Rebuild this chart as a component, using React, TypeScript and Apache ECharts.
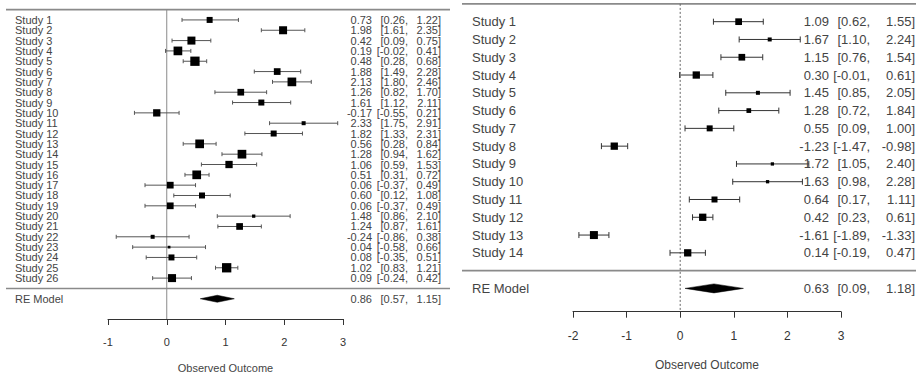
import React, { useEffect, useRef } from "react";
import * as echarts from "echarts";

// ---------- Left forest plot ----------
const leftStudies = [
  "Study 1", "Study 2", "Study 3", "Study 4", "Study 5", "Study 6", "Study 7",
  "Study 8", "Study 9", "Study 10", "Study 11", "Study 12", "Study 13", "Study 14",
  "Study 15", "Study 16", "Study 17", "Study 18", "Study 19", "Study 20", "Study 21",
  "Study 22", "Study 23", "Study 24", "Study 25", "Study 26",
];
const leftEst = [0.73, 1.98, 0.42, 0.19, 0.48, 1.88, 2.13, 1.26, 1.61, -0.17, 2.33, 1.82, 0.56, 1.28, 1.06, 0.51, 0.06, 0.6, 0.06, 1.48, 1.24, -0.24, 0.04, 0.08, 1.02, 0.09];
const leftLo = [0.26, 1.61, 0.09, -0.02, 0.28, 1.49, 1.8, 0.82, 1.12, -0.55, 1.75, 1.33, 0.28, 0.94, 0.59, 0.31, -0.37, 0.12, -0.37, 0.86, 0.87, -0.86, -0.58, -0.35, 0.83, -0.24];
const leftHi = [1.22, 2.35, 0.75, 0.41, 0.68, 2.28, 2.46, 1.7, 2.11, 0.21, 2.91, 2.31, 0.84, 1.62, 1.53, 0.72, 0.49, 1.08, 0.49, 2.1, 1.61, 0.38, 0.66, 0.51, 1.21, 0.42];
const leftWeight = [6, 8, 8, 8.7, 9.3, 6.7, 8.7, 6.7, 6, 7.3, 4, 6, 8.7, 8.7, 7.3, 8.7, 6.7, 6, 6.7, 3.3, 6.7, 4, 2.7, 6, 9.3, 8];
const leftRE = [0.86, 0.57, 1.15];
const leftTicks = [-1, 3];

// ---------- Right forest plot ----------
const rightStudies = [
  "Study 1", "Study 2", "Study 3", "Study 4", "Study 5", "Study 6", "Study 7",
  "Study 8", "Study 9", "Study 10", "Study 11", "Study 12", "Study 13", "Study 14",
];
const rightEst = [1.09, 1.67, 1.15, 0.3, 1.45, 1.28, 0.55, -1.23, 1.72, 1.63, 0.64, 0.42, -1.61, 0.14];
const rightLo = [0.62, 1.1, 0.76, -0.01, 0.85, 0.72, 0.09, -1.47, 1.05, 0.98, 0.17, 0.23, -1.89, -0.19];
const rightHi = [1.55, 2.24, 1.54, 0.61, 2.05, 1.84, 1.0, -0.98, 2.4, 2.28, 1.11, 0.61, -1.33, 0.47];
const rightWeight = [6.7, 4, 6.7, 7.3, 4, 4.7, 6, 7.3, 3.3, 3.3, 6, 7.3, 8, 7.3];
const rightRE = [0.63, 0.09, 1.18];
const rightTicks = [-2, 3];

const RELABEL = "RE Model";
const AXIS_TITLE = "Observed Outcome";

const FONT_FAMILY = "'Liberation Sans', Arial, Helvetica, sans-serif";
const TEXT = "#444";

type Panel = {
  names: string[];
  est: number[];
  lo: number[];
  hi: number[];
  w: number[];
  re: number[];
  fs: number;
  labelX: number;
  colE: number;
  colL: number;
  colH: number;
  lineX1: number;
  lineX2: number;
  tick: number;
  ciColor: string;
  zeroDash: number[] | null;
  zeroColor: string;
  diamondH: number;
};

const fmt = (v: number) => v.toFixed(2);

function txt(x: number, y: number, s: string, fs: number, align: string) {
  return {
    type: "text",
    x,
    y,
    silent: true,
    style: {
      text: s,
      fontSize: fs,
      fontFamily: FONT_FAMILY,
      fill: TEXT,
      align,
      verticalAlign: "middle",
    },
  };
}

function buildSeries(p: Panel, gi: number) {
  const k = p.names.length;
  const studyData = p.est.map((e, i) => [e, p.lo[i], p.hi[i], k - i, p.w[i]]);
  const studies = {
    type: "custom",
    xAxisIndex: gi,
    yAxisIndex: gi,
    clip: false,
    silent: true,
    data: studyData,
    encode: { x: [0, 1, 2], y: 3 },
    renderItem: (params: any, api: any) => {
      const i = params.dataIndex;
      const row = api.value(3);
      const c = api.coord([api.value(0), row]);
      const a = api.coord([api.value(1), row]);
      const b = api.coord([api.value(2), row]);
      const s = api.value(4);
      const t = p.tick;
      const ls = { stroke: p.ciColor, lineWidth: 1 };
      return {
        type: "group",
        children: [
          { type: "line", shape: { x1: a[0], y1: a[1], x2: b[0], y2: b[1] }, style: ls },
          { type: "line", shape: { x1: a[0], y1: a[1] - t, x2: a[0], y2: a[1] + t }, style: ls },
          { type: "line", shape: { x1: b[0], y1: b[1] - t, x2: b[0], y2: b[1] + t }, style: ls },
          { type: "rect", shape: { x: c[0] - s / 2, y: c[1] - s / 2, width: s, height: s }, style: { fill: "#000" } },
          txt(p.labelX, c[1], p.names[i], p.fs, "left"),
          txt(p.colE, c[1], fmt(p.est[i]), p.fs, "right"),
          txt(p.colL, c[1], "[" + fmt(p.lo[i]) + ",", p.fs, "right"),
          txt(p.colH, c[1], fmt(p.hi[i]) + "]", p.fs, "right"),
        ],
      };
    },
  };

  const re = {
    type: "custom",
    xAxisIndex: gi,
    yAxisIndex: gi,
    clip: false,
    silent: true,
    data: [[p.re[0], p.re[1], p.re[2], -1]],
    encode: { x: [0, 1, 2], y: 3 },
    renderItem: (params: any, api: any) => {
      const row = api.value(3);
      const c = api.coord([api.value(0), row]);
      const a = api.coord([api.value(1), row]);
      const b = api.coord([api.value(2), row]);
      const h = p.diamondH;
      return {
        type: "group",
        children: [
          {
            type: "polygon",
            shape: { points: [[a[0], a[1]], [c[0], c[1] - h], [b[0], b[1]], [c[0], c[1] + h]] },
            style: { fill: "#000", stroke: "#000", lineWidth: 0.5 },
          },
          txt(p.labelX, c[1], RELABEL, p.fs, "left"),
          txt(p.colE, c[1], fmt(p.re[0]), p.fs, "right"),
          txt(p.colL, c[1], "[" + fmt(p.re[1]) + ",", p.fs, "right"),
          txt(p.colH, c[1], fmt(p.re[2]) + "]", p.fs, "right"),
        ],
      };
    },
  };

  const frame = {
    type: "custom",
    xAxisIndex: gi,
    yAxisIndex: gi,
    clip: false,
    silent: true,
    data: [[0, k + 1]],
    encode: { x: 0, y: 1 },
    renderItem: (params: any, api: any) => {
      const top = api.coord([0, k + 1]);
      const sep = api.coord([0, 0]);
      const cs = params.coordSys;
      const bottom = cs.y + cs.height;
      const hl = { stroke: "#8a8a8a", lineWidth: 1.6 };
      return {
        type: "group",
        children: [
          { type: "line", shape: { x1: p.lineX1, y1: top[1], x2: p.lineX2, y2: top[1] }, style: hl },
          { type: "line", shape: { x1: p.lineX1, y1: sep[1], x2: p.lineX2, y2: sep[1] }, style: hl },
          {
            type: "line",
            shape: { x1: top[0], y1: top[1], x2: top[0], y2: bottom },
            style: { stroke: p.zeroColor, lineWidth: 1, lineDash: p.zeroDash || undefined },
          },
        ],
      };
    },
  };
  return [frame, studies, re];
}

const leftPanel: Panel = {
  names: leftStudies, est: leftEst, lo: leftLo, hi: leftHi, w: leftWeight, re: leftRE,
  fs: 11, labelX: 15, colE: 372, colL: 408, colH: 441, lineX1: 6, lineX2: 450,
  tick: 2, ciColor: "#555", zeroDash: null, zeroColor: "#8a8a8a", diamondH: 3.5,
};
const rightPanel: Panel = {
  names: rightStudies, est: rightEst, lo: rightLo, hi: rightHi, w: rightWeight, re: rightRE,
  fs: 13, labelX: 472, colE: 829, colL: 870, colH: 915, lineX1: 462, lineX2: 916,
  tick: 3, ciColor: "#333", zeroDash: [2, 2], zeroColor: "#666", diamondH: 4.5,
};

function xAxisCfg(gi: number, ticks: number[], fs: number, margin: number, nameGap: number) {
  return {
    type: "value",
    gridIndex: gi,
    min: ticks[0],
    max: ticks[1],
    interval: 1,
    name: AXIS_TITLE,
    nameLocation: "middle",
    nameGap,
    nameTextStyle: { fontSize: fs, fontFamily: FONT_FAMILY, color: TEXT },
    axisLine: { show: true, onZero: false, lineStyle: { color: "#333", width: 1 } },
    axisTick: { show: true, length: 6, lineStyle: { color: "#333" } },
    axisLabel: { fontSize: fs, fontFamily: FONT_FAMILY, color: "#333", margin },
    splitLine: { show: false },
  };
}

export default function App() {
  const ref = useRef<HTMLDivElement>(null);
  useEffect(() => {
    if (!ref.current) return;
    const chart = echarts.init(ref.current, undefined, { renderer: "svg" });
    chart.setOption({
      animation: false,
      backgroundColor: "#fff",
      grid: [
        { left: 108, top: 9.6, width: 235, height: 310.4, containLabel: false },
        { left: 573, top: 3.9, width: 268, height: 307.8, containLabel: false },
      ],
      xAxis: [
        xAxisCfg(0, leftTicks, 11, 17, 43),
        xAxisCfg(1, rightTicks, 12, 18.5, 47),
      ],
      yAxis: [
        { type: "value", gridIndex: 0, min: -2.96, max: leftStudies.length + 1, show: false, splitLine: { show: false } },
        { type: "value", gridIndex: 1, min: -2.31, max: rightStudies.length + 1, show: false, splitLine: { show: false } },
      ],
      series: [...buildSeries(leftPanel, 0), ...buildSeries(rightPanel, 1)],
    });
    return () => chart.dispose();
  }, []);
  return (
    <div
      ref={ref}
      style={{ width: 916, height: 378, position: "absolute", left: 0, top: 0 }}
    />
  );
}
